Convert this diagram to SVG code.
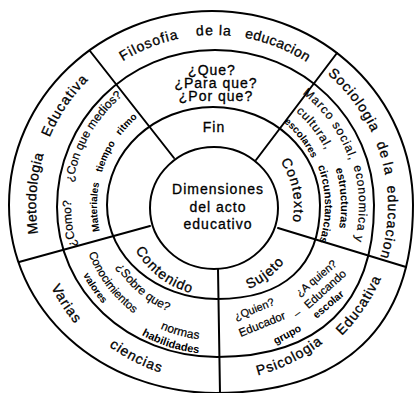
<svg xmlns="http://www.w3.org/2000/svg" width="417" height="393" viewBox="0 0 417 393">
<style>
.ring{fill:none;stroke:#000;stroke-width:2}
.ln{stroke:#000;stroke-width:2;fill:none;stroke-linecap:round}
text{font-family:"Liberation Sans",Arial,sans-serif;fill:#000}
.b{font-size:14px;letter-spacing:1px;stroke:#000;stroke-width:0.3px}
.m{font-size:12px;stroke:#000;stroke-width:0.2px}
.s{font-size:10px;font-weight:bold}
.r{text-anchor:middle;dominant-baseline:central}
</style>
<defs>
<path id="cwA" d="M214,377 A171,171 0 1 1 214,35 A171,171 0 1 1 214,377"/>
<path id="cwB" d="M214,380 A174,174 0 1 1 214,32 A174,174 0 1 1 214,380"/>
<path id="cwC" d="M214,384 A178,178 0 1 1 214,28 A178,178 0 1 1 214,384"/>
<path id="cwD" d="M214,349 A143,143 0 1 1 214,63 A143,143 0 1 1 214,349"/>
<path id="cwD2" d="M214,351 A145,145 0 1 1 214,61 A145,145 0 1 1 214,351"/>
<path id="cwE" d="M214,331 A125,125 0 1 1 214,81 A125,125 0 1 1 214,331"/>
<path id="cwE2" d="M214,333 A127,127 0 1 1 214,79 A127,127 0 1 1 214,333"/>
<path id="cwF" d="M214,323 A117,117 0 1 1 214,89 A117,117 0 1 1 214,323"/>
<path id="cwG" d="M214,315 A109,109 0 1 1 214,97 A109,109 0 1 1 214,315"/>
<path id="cwG2" d="M214,317 A111,111 0 1 1 214,95 A111,111 0 1 1 214,317"/>
<path id="cwH" d="M214,286 A80,80 0 1 1 214,126 A80,80 0 1 1 214,286"/>
<path id="ccA" d="M214,24 A182,182 0 1 0 214,388 A182,182 0 1 0 214,24"/>
<path id="ccB" d="M214,31 A175,175 0 1 0 214,381 A175,175 0 1 0 214,31"/>
<path id="ccC" d="M214,91 A115,115 0 1 0 214,321 A115,115 0 1 0 214,91"/>
<path id="ccD" d="M214,72 A134,134 0 1 0 214,340 A134,134 0 1 0 214,72"/>
<path id="ccF" d="M214,58 A148,148 0 1 0 214,354 A148,148 0 1 0 214,58"/>
<path id="ccG" d="M214,116 A90,90 0 1 0 214,296 A90,90 0 1 0 214,116"/>
</defs>
<rect width="417" height="393" fill="#fff"/>

<g id="structure">
<path class="ring" d="M212,11 C323,11 413,97.9 413,205 C413,327.2 344,393 216,393 C100.1,393 9,310.3 9,205 C9,97.9 99.9,11 212,11 Z"/>
<path class="ring" d="M215,50 C302.8,50 374,119.4 374,205 C374,303.8 319,357 217,357 C127.4,357 57,291 57,207 C57,120.3 127.7,50 215,50 Z"/>
<path class="ring" d="M213,107 C272,107 320,151 320,205 C320,266 284,299 217,299 C156,299 107,257 107,205 C107,151 154.5,107 213,107 Z"/>
</g>
<g id="connectors">
<line class="ln" x1="90" y1="51" x2="174" y2="158"/>
<line class="ln" x1="337" y1="53" x2="256" y2="160"/>
<line class="ln" x1="278" y1="228" x2="406" y2="267"/>
<line class="ln" x1="218" y1="269" x2="220" y2="393"/>
<line class="ln" x1="150" y1="226" x2="19" y2="262"/>
</g>

<g id="center">
<ellipse class="ring" cx="214" cy="208" rx="64" ry="61"/>
<text class="b" text-anchor="middle" x="218" y="194">Dimensiones</text>
<text class="b" text-anchor="middle" x="218" y="212">del acto</text>
<text class="b" text-anchor="middle" x="218" y="229">educativo</text>
</g>

<g id="fin">
<text class="b" text-anchor="middle" x="214" y="132">Fin</text>
<text class="b" text-anchor="middle" x="212" y="75">¿Que?</text>
<text class="b" text-anchor="middle" x="216" y="88">¿Para que?</text>
<text class="b" text-anchor="middle" x="216" y="101">¿Por que?</text>
</g>

<g id="filosofia">
<text class="b" text-anchor="middle"><textPath href="#cwA" startOffset="43.9%">Filosofia</textPath></text>
<text class="b" text-anchor="middle"><textPath href="#cwA" startOffset="50%">de la</textPath></text>
<text class="b" text-anchor="middle" style="letter-spacing:0.4px"><textPath href="#cwA" startOffset="56%">educacion</textPath></text>
</g>

<g id="sociologia">
<text class="b" text-anchor="middle"><textPath href="#cwB" startOffset="64.72%">Sociologia</textPath></text>
<text class="b" text-anchor="middle"><textPath href="#cwB" startOffset="69.92%">de</textPath></text>
<text class="b" text-anchor="middle"><textPath href="#cwB" startOffset="71.67%">la</textPath></text>
<text class="b" text-anchor="middle"><textPath href="#cwB" startOffset="76.5%">educacion</textPath></text>
</g>

<g id="metodologia">
<text class="b" text-anchor="middle" style="letter-spacing:0.4px"><textPath href="#cwC" startOffset="26.11%">Metodologia</textPath></text>
<text class="b" text-anchor="middle"><textPath href="#cwC" startOffset="34.44%">Educativa</textPath></text>
<text class="m" text-anchor="middle"><textPath href="#cwD" startOffset="33.28%">¿Con que medios?</textPath></text>
<text class="m" text-anchor="middle"><textPath href="#cwD" startOffset="23.06%">¿Como?</textPath></text>
<text class="s" text-anchor="middle"><textPath href="#cwF" startOffset="24.86%">Materiales</textPath></text>
<text class="s" text-anchor="middle"><textPath href="#cwF" startOffset="31.81%">tiempo</textPath></text>
<text class="s" text-anchor="middle"><textPath href="#cwF" startOffset="36.94%">ritmo</textPath></text>
</g>

<g id="contexto">
<text class="b" text-anchor="middle"><textPath href="#cwH" startOffset="71.94%">Contexto</textPath></text>
<text class="m" text-anchor="middle" style="letter-spacing:1px"><textPath href="#cwD" startOffset="65.28%">Marco social,</textPath></text>
<text class="m" text-anchor="middle" style="letter-spacing:0.8px"><textPath href="#cwD2" startOffset="74.78%">economica y</textPath></text>
<text class="m" text-anchor="middle" style="letter-spacing:0.8px"><textPath href="#cwE" startOffset="64.53%">cultural,</textPath></text>
<text class="s" text-anchor="middle" style="font-size:11px"><textPath href="#cwE2" startOffset="74.03%">estructuras</textPath></text>
<text class="s" text-anchor="middle"><textPath href="#cwG" startOffset="64.44%">escolares</textPath></text>
<text class="s" text-anchor="middle" style="font-size:11px"><textPath href="#cwG2" startOffset="74.72%">circunstancias</textPath></text>
</g>

<g id="contenido">
<text class="b" text-anchor="middle"><textPath href="#ccG" startOffset="39.56%">Contenido</textPath></text>
<text class="m" text-anchor="middle"><textPath href="#ccC" startOffset="38.61%">¿Sobre que?</textPath></text>
<text class="m" text-anchor="middle" style="font-size:11.5px"><textPath href="#ccD" startOffset="35.28%">Conocimientos</textPath></text>
<text class="m" text-anchor="middle"><textPath href="#ccD" startOffset="45.81%">normas</textPath></text>
<text class="s" text-anchor="middle"><textPath href="#ccF" startOffset="34.61%">valores</textPath></text>
<text class="s" text-anchor="middle" style="font-size:11px"><textPath href="#ccF" startOffset="45.11%">habilidades</textPath></text>
<text class="b" text-anchor="middle"><textPath href="#ccA" startOffset="34.31%">Varias</textPath></text>
<text class="b" text-anchor="middle"><textPath href="#ccB" startOffset="42.44%">ciencias</textPath></text>
</g>

<g id="sujeto">
<text class="b" text-anchor="middle"><textPath href="#ccG" startOffset="60.36%">Sujeto</textPath></text>
<text class="m r" style="font-size:11px" transform="translate(254,309) rotate(-22)">¿Quien?</text>
<text class="m r" style="font-size:11px" transform="translate(316,278) rotate(-40)">¿A quien?</text>
<text class="m r" style="font-size:11.5px" transform="translate(262,324) rotate(-22)">Educador</text>
<text class="m r" style="font-size:11px" transform="translate(297,313) rotate(-35)">–</text>
<text class="m r" style="font-size:11.5px" transform="translate(325,289) rotate(-42)">Educando</text>
<text class="s r" style="font-size:10.5px" transform="translate(287,334) rotate(-28)">grupo</text>
<text class="s r" style="font-size:10.5px" transform="translate(328,304) rotate(-40)">escolar</text>
<text class="b" text-anchor="middle"><textPath href="#ccB" startOffset="57.39%">Psicologia</textPath></text>
<text class="b" text-anchor="middle"><textPath href="#ccA" startOffset="65.47%">Educativa</textPath></text>
</g>
</svg>
